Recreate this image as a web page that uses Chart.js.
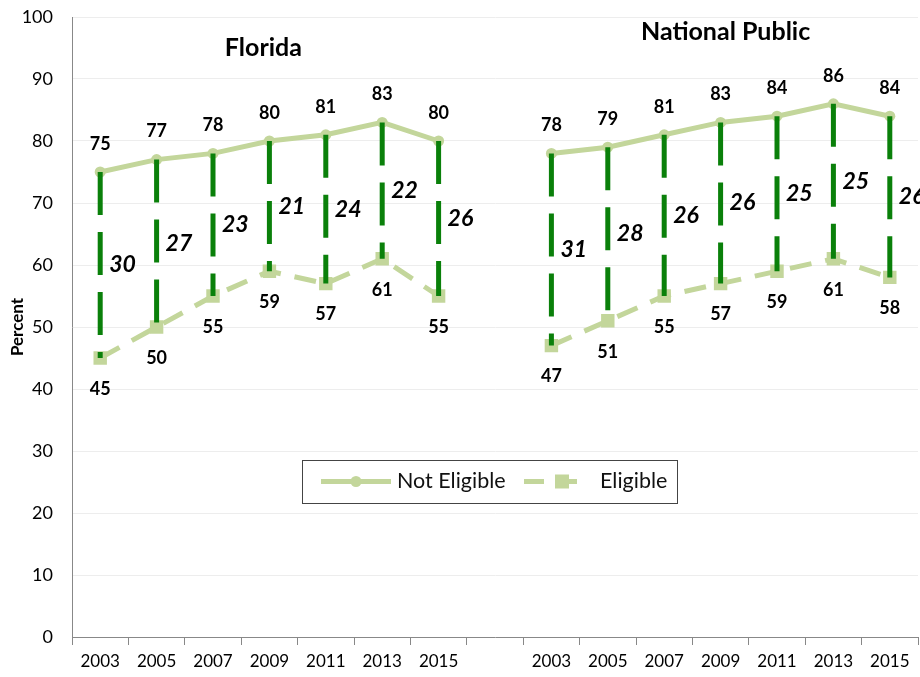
<!DOCTYPE html>
<html>
<head>
<meta charset="utf-8">
<script src="https://cdn.jsdelivr.net/npm/chart.js@4.4.1/dist/chart.umd.min.js"></script>
<style>
  html, body { margin: 0; padding: 0; background: #fff; overflow: hidden; }
  #wrap { width: 920px; height: 677px; }
  canvas { display: block; }
</style>
</head>
<body>
<div id="wrap"><canvas id="mycanvas" width="920" height="677"></canvas></div>
<script>
// chart values
var years = ['2003', '2005', '2007', '2009', '2011', '2013', '2015', '', '2003', '2005', '2007', '2009', '2011', '2013', '2015'];
var notEligible = [75, 77, 78, 80, 81, 83, 80, null, 78, 79, 81, 83, 84, 86, 84];
var eligible = [45, 50, 55, 59, 57, 61, 55, null, 47, 51, 55, 57, 59, 61, 58];
var gaps = [30, 27, 23, 21, 24, 22, 26, null, 31, 28, 26, 26, 25, 25, 26];
var panelTitles = ['Florida', 'National Public'];
var yTicks = [0, 10, 20, 30, 40, 50, 60, 70, 80, 90, 100];

var lightGreen = '#c3d69b';
var darkGreen = '#0a800a';
var fontFam = 'Lato, "Open Sans", sans-serif';

// dashed gap bars, value labels, panel titles and legend
var gapPlugin = {
	id: 'gapPlugin',
	afterDatasetsDraw: function(chart) {
		var ctx = chart.ctx;
		var x = chart.scales.x, y = chart.scales.y;
		ctx.save();
		for (var i = 0; i < years.length; i++) {
			if (notEligible[i] == null) continue;
			var px = x.getPixelForValue(i);
			var top = y.getPixelForValue(notEligible[i]);
			var bot = y.getPixelForValue(eligible[i]);
			ctx.strokeStyle = darkGreen;
			ctx.lineWidth = 5;
			ctx.setLineDash([43, 17]);
			ctx.beginPath();
			ctx.moveTo(px, top);
			ctx.lineTo(px, bot);
			ctx.stroke();
			ctx.setLineDash([]);

			ctx.fillStyle = '#000';
			ctx.font = 'italic bold 23px ' + fontFam;
			ctx.textAlign = 'left';
			ctx.textBaseline = 'middle';
			ctx.fillText(gaps[i], px + 9, (top + bot) / 2);

			ctx.font = 'bold 18px ' + fontFam;
			ctx.textAlign = 'center';
			ctx.fillText(notEligible[i], px, top - 28);
			ctx.fillText(eligible[i], px, bot + 31);
		}

		// panel titles
		ctx.font = 'bold 25px ' + fontFam;
		ctx.textAlign = 'center';
		ctx.fillText(panelTitles[0], (x.getPixelForValue(0) + x.getPixelForValue(6)) / 2 - 6, y.getPixelForValue(95));
		ctx.fillText(panelTitles[1], (x.getPixelForValue(8) + x.getPixelForValue(14)) / 2 + 5, y.getPixelForValue(97.6));

		// legend box
		var lx = 302, ly = 460, lw = 375, lh = 43;
		ctx.fillStyle = '#fff';
		ctx.fillRect(lx, ly, lw, lh);
		ctx.strokeStyle = '#444';
		ctx.lineWidth = 1;
		ctx.strokeRect(lx + 0.5, ly + 0.5, lw, lh);
		var cy = ly + lh / 2;
		ctx.strokeStyle = lightGreen;
		ctx.lineWidth = 5;
		ctx.beginPath();
		ctx.moveTo(321, cy); ctx.lineTo(391, cy);
		ctx.stroke();
		ctx.fillStyle = lightGreen;
		ctx.beginPath();
		ctx.arc(356, cy, 5.5, 0, Math.PI * 2);
		ctx.fill();
		ctx.setLineDash([20, 13]);
		ctx.beginPath();
		ctx.moveTo(524, cy); ctx.lineTo(583, cy);
		ctx.stroke();
		ctx.setLineDash([]);
		ctx.fillRect(555, cy - 7, 14, 14);
		ctx.fillStyle = '#111';
		ctx.font = '21.5px ' + fontFam;
		ctx.textAlign = 'left';
		ctx.textBaseline = 'middle';
		ctx.fillText('Not Eligible', 397, cy);
		ctx.fillText('Eligible', 600, cy);
		ctx.restore();
	}
};

var ctx = document.getElementById('mycanvas');

var lineGraph = new Chart(ctx, {
	type: 'line',
	data: {
		labels: years,
		datasets: [
			{
				label: 'Not Eligible',
				data: notEligible,
				borderColor: lightGreen,
				backgroundColor: lightGreen,
				borderWidth: 5,
				pointRadius: 5.5,
				pointStyle: 'circle',
				pointBorderWidth: 0,
				spanGaps: false,
				tension: 0
			},
			{
				label: 'Eligible',
				data: eligible,
				borderColor: lightGreen,
				backgroundColor: lightGreen,
				borderWidth: 5,
				borderDash: [22, 14],
				pointRadius: 9.5,
				pointStyle: 'rect',
				pointBorderWidth: 0,
				spanGaps: false,
				tension: 0
			}
		]
	},
	options: {
		responsive: false,
		animation: false,
		layout: { autoPadding: false, padding: { top: 17, right: 2, left: 0, bottom: 0 } },
		plugins: {
			legend: { display: false },
			tooltip: { enabled: false }
		},
		scales: {
			x: {
				offset: true,
				grid: {
					display: true,
					offset: true,
					drawOnChartArea: false,
					drawTicks: true,
					tickLength: 8,
					color: '#888'
				},
				border: { color: '#888', width: 1 },
				ticks: {
					autoSkip: false,
					maxRotation: 0,
					padding: 6,
					color: '#000',
					font: { family: fontFam, size: 17 }
				},
				afterFit: function(scale) {
					scale.height = 40;
					scale.paddingLeft = 0;
					scale.paddingRight = 0;
				}
			},
			y: {
				min: 0,
				max: 100,
				afterBuildTicks: function(scale) {
					scale.ticks = yTicks.map(function(v) { return { value: v }; });
				},
				grid: { color: '#ededed', drawTicks: false },
				border: { color: '#888', width: 1 },
				ticks: {
					padding: 19,
					color: '#000',
					font: { family: fontFam, size: 18 }
				},
				title: {
					display: true,
					text: 'Percent',
					color: '#000',
					padding: { top: 7, bottom: 0 },
					font: { family: fontFam, size: 17, weight: 'bold' }
				},
				afterFit: function(scale) {
					scale.width = 72;
					scale.paddingTop = 0;
					scale.paddingBottom = 0;
				}
			}
		}
	},
	plugins: [gapPlugin]
});
</script>
</body>
</html>
